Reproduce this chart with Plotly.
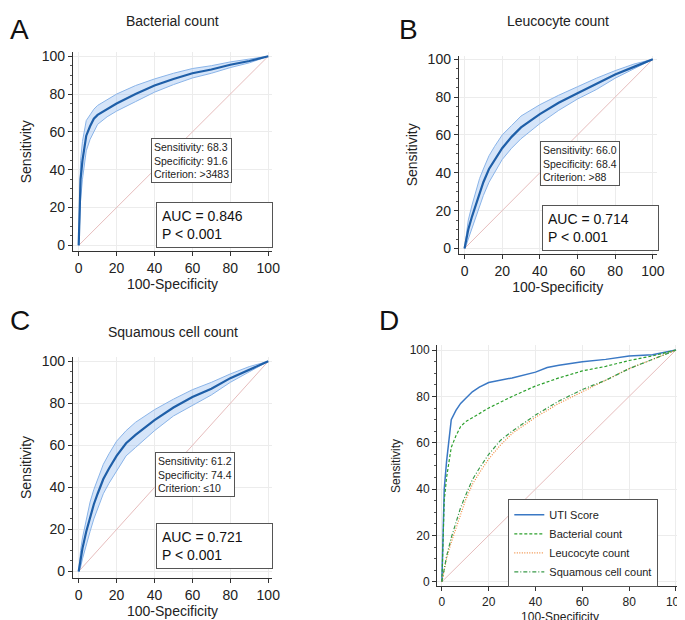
import plotly.graph_objects as go

# ROC curve readings (100-Specificity, Sensitivity)
bact_x = [0, 0.5, 1, 2, 3, 4, 6, 8, 10, 15, 20, 30, 40, 50, 60, 70, 80, 90, 100]
bact_y = [0, 20, 35, 45, 52, 58, 63, 67, 69, 72, 75, 80, 84.5, 88, 91, 93, 95.5, 97.5, 100]
bact_lo = [0, 10, 24, 35, 43, 50, 56, 60, 64, 68, 71, 76, 81, 85, 88.5, 91, 94, 96.5, 100]
bact_hi = [0, 30, 45, 55, 61, 66, 69, 72, 74, 77, 80, 84.5, 88, 91, 93.5, 95, 97, 98.5, 100]

leuc_x = [0, 1, 2, 4, 6, 8, 10, 13, 16, 20, 25, 30, 40, 50, 60, 70, 80, 90, 100]
leuc_y = [0, 5, 10, 17, 23, 30, 35, 42, 47, 53, 59, 64, 71, 77, 82, 87, 92, 96, 100]
leuc_lo = [0, 2, 5, 11, 17, 23, 28, 35, 40, 47, 53, 58, 66, 73, 79, 84, 90, 95, 100]
leuc_hi = [0, 9, 15, 23, 30, 37, 42, 49, 54, 60, 65, 70, 76, 81, 85.5, 90, 94, 97.5, 100]

squa_x = [0, 1, 2, 4, 6, 8, 10, 13, 16, 20, 25, 30, 40, 50, 60, 70, 80, 90, 100]
squa_y = [0, 6, 11, 19, 26, 32, 37, 44, 49, 55, 61, 65, 72, 78, 83, 87, 92, 96, 100]
squa_lo = [0, 2, 6, 13, 19, 25, 30, 37, 42, 48, 55, 59, 67, 74, 79, 84, 90, 95, 100]
squa_hi = [0, 10, 16, 25, 33, 39, 44, 51, 56, 62, 67, 71, 77, 82, 86.5, 90, 94, 97.5, 100]

uti_x = [0, 0.5, 1, 2, 3, 4, 6, 8, 10, 13, 16, 20, 30, 40, 45, 50, 60, 70, 80, 90, 100]
uti_y = [0, 20, 40, 52, 62, 70, 74, 77, 79, 82, 84, 86, 88, 90.5, 92.5, 93.5, 95, 96, 97.5, 98, 100]

blue_dark = "#1f5fa8"
band_line = "#8ab4e8"
band_fill = "rgba(120,170,235,0.30)"
diag = "#e6bcbc"
font_family = "Liberation Sans, Arial, sans-serif"

fig = go.Figure()


def roc_panel(n, xs, ys, lo, hi):
    xa, ya = f"x{n}", f"y{n}"
    fig.add_trace(go.Scatter(x=[0, 100], y=[0, 100], xaxis=xa, yaxis=ya, mode="lines",
                             line=dict(color=diag, width=1), showlegend=False))
    fig.add_trace(go.Scatter(x=xs, y=lo, xaxis=xa, yaxis=ya, mode="lines",
                             line=dict(color=band_line, width=1), showlegend=False))
    fig.add_trace(go.Scatter(x=xs, y=hi, xaxis=xa, yaxis=ya, mode="lines", fill="tonexty",
                             fillcolor=band_fill, line=dict(color=band_line, width=1),
                             showlegend=False))
    fig.add_trace(go.Scatter(x=xs, y=ys, xaxis=xa, yaxis=ya, mode="lines",
                             line=dict(color=blue_dark, width=2.2), showlegend=False))


roc_panel(1, bact_x, bact_y, bact_lo, bact_hi)
roc_panel(2, leuc_x, leuc_y, leuc_lo, leuc_hi)
roc_panel(3, squa_x, squa_y, squa_lo, squa_hi)

# panel D
fig.add_trace(go.Scatter(x=[0, 100], y=[0, 100], xaxis="x4", yaxis="y4", mode="lines",
                         line=dict(color=diag, width=1), showlegend=False))
fig.add_trace(go.Scatter(x=uti_x, y=uti_y, xaxis="x4", yaxis="y4", mode="lines", name="UTI Score",
                         line=dict(color="#3a78c4", width=1.5)))
fig.add_trace(go.Scatter(x=bact_x, y=bact_y, xaxis="x4", yaxis="y4", mode="lines", name="Bacterial count",
                         line=dict(color="#2ca02c", width=1.2, dash="3px,2px")))
fig.add_trace(go.Scatter(x=leuc_x, y=leuc_y, xaxis="x4", yaxis="y4", mode="lines", name="Leucocyte count",
                         line=dict(color="#f08a3c", width=1.2, dash="1px,1.5px")))
fig.add_trace(go.Scatter(x=squa_x, y=squa_y, xaxis="x4", yaxis="y4", mode="lines", name="Squamous cell count",
                         line=dict(color="#3a9a4a", width=1.2, dash="4px,2px,1px,2px")))

domains = {
    1: ([0.096, 0.390], [0.610, 0.934], [-3, 102], [-3, 102], 14),
    2: ([0.666, 0.958], [0.605, 0.929], [-3, 102], [-3, 102], 14),
    3: ([0.096, 0.390], [0.077, 0.437], [-3, 102], [-3, 102], 14),
    4: ([0.634, 0.997], [0.063, 0.456], [-2, 103], [-2, 102], 12),
}
layout = {}
for n, (dx, dy, rx, ry, fs) in domains.items():
    s = "" if n == 1 else str(n)
    common = dict(showline=True, linecolor="#333", linewidth=1.2, ticks="outside",
                  ticklen=4, tickcolor="#333", showgrid=True, gridcolor="#ececec",
                  zeroline=False, dtick=20, tickfont=dict(size=fs, color="#222"))
    layout["xaxis" + s] = dict(domain=dx, range=rx, anchor="y" + s,
                               title=dict(text="100-Specificity", font=dict(size=fs, color="#222"),
                                          standoff=4), **common)
    layout["yaxis" + s] = dict(domain=dy, range=ry, anchor="x" + s,
                               minor=dict(ticks="outside", ticklen=2, dtick=5, tickcolor="#555"),
                               title=dict(text="Sensitivity", font=dict(size=fs, color="#222"),
                                          standoff=6), **common)
fig.update_layout(**layout)

anns = []
for letter, px_, py_ in [("A", 0.0, 1.0), ("B", 0.575, 1.0), ("C", 0.0, 0.525), ("D", 0.545, 0.525)]:
    anns.append(dict(text=letter, x=px_, y=py_, xref="paper", yref="paper", xanchor="left",
                     yanchor="top", showarrow=False, font=dict(size=28, color="#111")))
for title, xc, yc in [("Bacterial count", 0.243, 0.985), ("Leucocyte count", 0.812, 0.985),
                      ("Squamous cell count", 0.243, 0.478)]:
    anns.append(dict(text=title, x=xc, y=yc, xref="paper", yref="paper", xanchor="center",
                     yanchor="middle", showarrow=False, font=dict(size=14, color="#222")))

stats = [
    ("", "Sensitivity: 68.3<br>Specificity: 91.6<br>Criterion: >3483", "AUC = 0.846<br>P < 0.001", 38),
    ("2", "Sensitivity: 66.0<br>Specificity: 68.4<br>Criterion: >88", "AUC = 0.714<br>P < 0.001", 40),
    ("3", "Sensitivity: 61.2<br>Specificity: 74.4<br>Criterion: ≤10", "AUC = 0.721<br>P < 0.001", 40),
]
for s, crit, auc, x0 in stats:
    anns.append(dict(text=crit, x=x0, y=57, xref="x" + s, yref="y" + s, xanchor="left", yanchor="top",
                     align="left", showarrow=False, bordercolor="#555", borderwidth=1, borderpad=2,
                     bgcolor="white", font=dict(size=10.5, color="#222")))
    anns.append(dict(text=auc, x=41, y=23, xref="x" + s, yref="y" + s, xanchor="left", yanchor="top",
                     align="left", showarrow=False, bordercolor="#555", borderwidth=1, borderpad=5,
                     bgcolor="white", width=105, font=dict(size=14, color="#111")))

fig.update_layout(
    annotations=anns,
    width=685, height=620,
    margin=dict(l=0, r=0, t=0, b=0),
    paper_bgcolor="white", plot_bgcolor="white",
    font=dict(family=font_family, color="#222"),
    legend=dict(x=0.739, y=0.205, xanchor="left", yanchor="top", bordercolor="#555", borderwidth=1,
                bgcolor="white", font=dict(size=11), traceorder="normal", tracegroupgap=0,
                itemwidth=30),
)

fig.write_html("out.html")
